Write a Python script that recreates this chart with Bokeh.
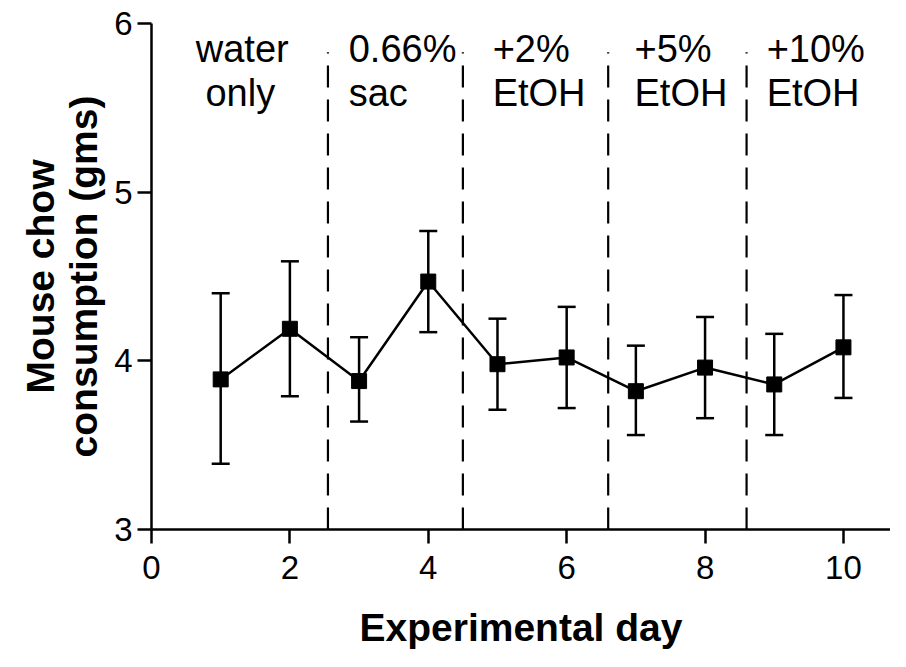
from bokeh.plotting import figure
from bokeh.models import ColumnDataSource, Whisker, TeeHead, FixedTicker, Range1d
from bokeh.core.properties import value
from bokeh.embed import file_html
from bokeh.resources import INLINE

# ---- data ----
days = [1, 2, 3, 4, 5, 6, 7, 8, 9, 10]
chow_mean = [3.89, 4.19, 3.88, 4.47, 3.98, 4.02, 3.82, 3.96, 3.86, 4.08]
err_upper = [4.40, 4.59, 4.14, 4.77, 4.25, 4.32, 4.09, 4.26, 4.16, 4.39]
err_lower = [3.39, 3.79, 3.64, 4.17, 3.71, 3.72, 3.56, 3.66, 3.56, 3.78]
phase_bounds = [2.55, 4.5, 6.6, 8.6]
phase_line1 = ["water", "0.66%", "+2%", "+5%", "+10%"]
phase_line2 = ["only", "sac", "EtOH", "EtOH", "EtOH"]
x_ticks = [0, 2, 4, 6, 8, 10]
y_ticks = [3, 4, 5, 6]

# ---- layout ----
FONT = "Liberation Sans"
line1_x = [0.64, 2.85, 4.93, 6.98, 8.89]
line2_x = [0.78, 2.85, 4.93, 6.98, 8.89]
line1_y = 5.85
line2_y = 5.59
dash_top = 5.83

p = figure(width=890, height=651, output_backend="svg", toolbar_location=None,
           x_range=Range1d(0, 10.68), y_range=Range1d(3, 6),
           min_border_left=151, min_border_right=0, min_border_top=23,
           min_border_bottom=118)
p.outline_line_color = None
p.grid.visible = False
p.background_fill_color = "white"
p.border_fill_color = "white"

for ax in (p.xaxis[0], p.yaxis[0]):
    ax.axis_line_width = 2.5
    ax.axis_line_color = "black"
    ax.major_tick_line_width = 2.5
    ax.major_tick_line_color = "black"
    ax.major_tick_in = 0
    ax.major_tick_out = 14
    ax.minor_tick_line_color = None
    ax.major_label_text_font = FONT
    ax.major_label_text_font_size = "33px"
    ax.major_label_text_color = "black"
    ax.axis_label_text_font = FONT
    ax.axis_label_text_font_style = "bold"
    ax.axis_label_text_font_size = "39px"
    ax.axis_label_text_color = "black"
    ax.axis_label_text_line_height = 1.0

p.xaxis.ticker = FixedTicker(ticks=x_ticks)
p.yaxis.ticker = FixedTicker(ticks=y_ticks)
p.xaxis.axis_label = "Experimental day"
p.yaxis.axis_label = "Mouse chow\nconsumption (gms)"
p.xaxis.major_label_standoff = 12
p.yaxis.major_label_standoff = 5
p.xaxis.axis_label_standoff = 24
p.yaxis.axis_label_standoff = 6

# dashed phase boundaries
p.segment(x0=phase_bounds, y0=[3] * len(phase_bounds), x1=phase_bounds,
          y1=[dash_top] * len(phase_bounds), line_color="black",
          line_width=2.2, line_dash="22 12")

src = ColumnDataSource(dict(x=days, y=chow_mean, up=err_upper, lo=err_lower))
p.add_layout(Whisker(source=src, base="x", upper="up", lower="lo",
                     line_width=2.5, line_color="black",
                     upper_head=TeeHead(size=18, line_width=2.5, line_color="black"),
                     lower_head=TeeHead(size=18, line_width=2.5, line_color="black")))
p.line("x", "y", source=src, line_width=2.5, line_color="black")
p.scatter("x", "y", source=src, marker="square", size=15,
          fill_color="black", line_color="black")

p.text(x=line1_x, y=[line1_y] * 5, text=phase_line1, text_font=value(FONT),
       text_font_size="38px", text_color="black", text_align="left",
       text_baseline="alphabetic")
p.text(x=line2_x, y=[line2_y] * 5, text=phase_line2, text_font=value(FONT),
       text_font_size="38px", text_color="black", text_align="left",
       text_baseline="alphabetic")

open("out.html", "w").write(file_html(p, INLINE))
